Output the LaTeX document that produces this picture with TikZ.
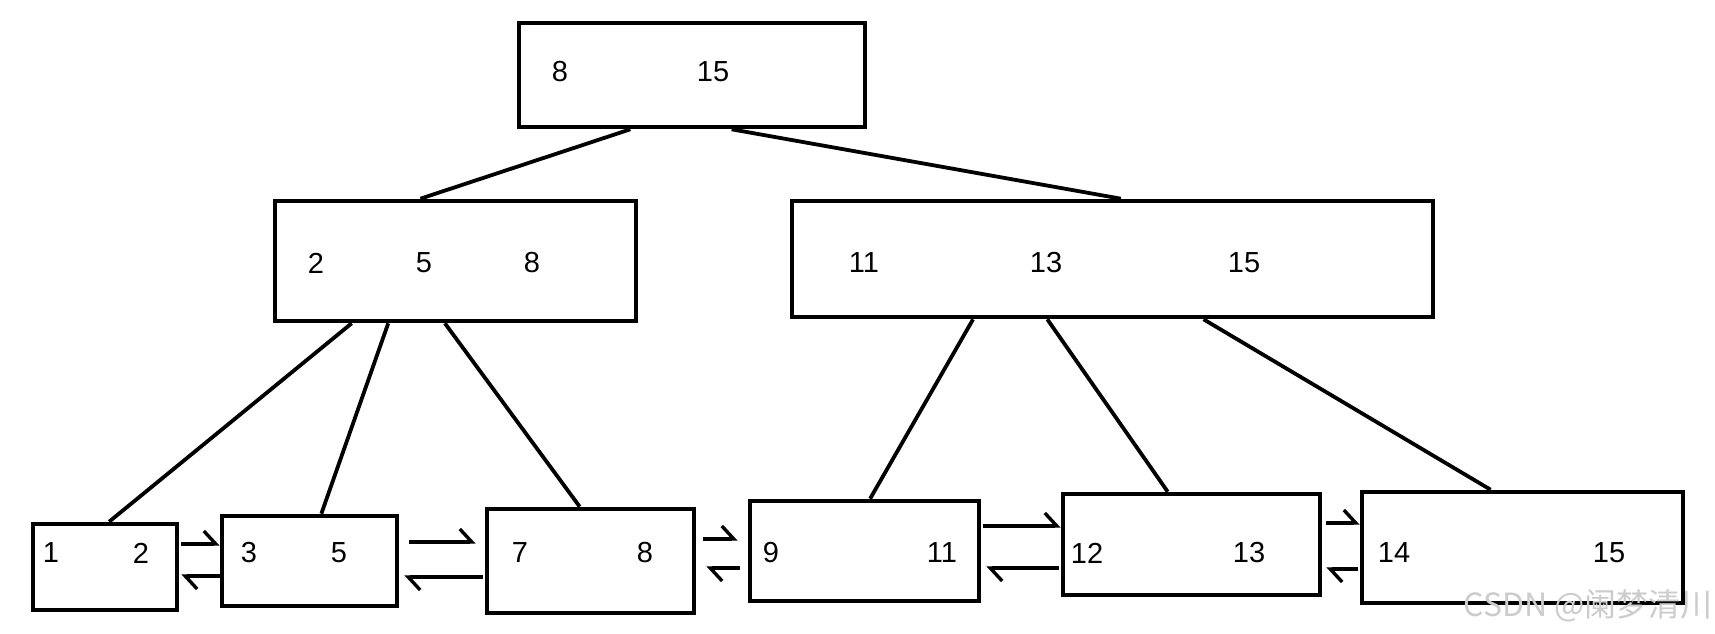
\documentclass[tikz,border=0pt]{standalone}
\usepackage{fontspec}
\setmainfont{Liberation Sans}
\newfontfamily\cjkfont{Noto Sans CJK SC}
\usetikzlibrary{arrows.meta,calc}
\begin{document}
\begin{tikzpicture}[x=1pt,y=-1pt,
  box/.style={draw=black, line width=4.6pt, inner sep=0pt, fill=none},
  num/.style={inner sep=0pt, font=\fontsize{29}{34}\selectfont},
  edge/.style={draw=black, line width=3.8pt},
  link/.style={draw=black, line width=3.4pt, -{Straight Barb[harpoon, length=12pt, width=26pt, line width=3.4pt]}}
]
\useasboundingbox[fill=white] (0,0) rectangle (1715,634);

% boxes
\node[box, minimum width=346pt, minimum height=104pt] (top) at (692,75) {};
\node[box, minimum width=361pt, minimum height=120pt] (ml) at (455.5,261) {};
\node[box, minimum width=641pt, minimum height=116pt] (mr) at (1112.5,259) {};
\node[box, minimum width=144pt, minimum height=86pt] (b1) at (105,567) {};
\node[box, minimum width=175pt, minimum height=90pt] (b2) at (309.5,561) {};
\node[box, minimum width=207pt, minimum height=104pt] (b3) at (590.5,561) {};
\node[box, minimum width=229pt, minimum height=100pt] (b4) at (864.5,551) {};
\node[box, minimum width=257pt, minimum height=101pt] (b5) at (1191.5,544.5) {};
\node[box, minimum width=321pt, minimum height=111pt] (b6) at (1522.5,547.5) {};

% keys
\node[num] (t1) at (560,72) {8};
\node[num] (t2) at (713,72) {15};
\node[num] (m1) at (316,263) {2};
\node[num] (m2) at (424,263) {5};
\node[num] (m3) at (532,263) {8};
\node[num] (r1) at (864,263) {11};
\node[num] (r2) at (1046,263) {13};
\node[num] (r3) at (1244,263) {15};
\node[num] (k1) at (51,553) {1};
\node[num] (k2) at (141,553) {2};
\node[num] (k3) at (249,553) {3};
\node[num] (k4) at (339,553) {5};
\node[num] (k5) at (520,553) {7};
\node[num] (k6) at (645,553) {8};
\node[num] (k7) at (771,553) {9};
\node[num] (k8) at (942,553) {11};
\node[num] (k9) at (1087,553) {12};
\node[num] (k10) at (1249,553) {13};
\node[num] (k11) at (1394,553) {14};
\node[num] (k12) at (1609,553) {15};

% tree edges
\draw[edge] ($(top.south west)!0.324!(top.south east)$) -- ($(ml.north west)!0.404!(ml.north east)$);
\draw[edge] ($(top.south west)!0.613!(top.south east)$) -- ($(mr.north west)!0.513!(mr.north east)$);
\draw[edge] ($(ml.south west)!0.216!(ml.south east)$) -- ($(b1.north west)!0.528!(b1.north east)$);
\draw[edge] ($(ml.south west)!0.316!(ml.south east)$) -- ($(b2.north west)!0.566!(b2.north east)$);
\draw[edge] ($(ml.south west)!0.471!(ml.south east)$) -- ($(b3.north west)!0.449!(b3.north east)$);
\draw[edge] ($(mr.south west)!0.284!(mr.south east)$) -- ($(b4.north west)!0.524!(b4.north east)$);
\draw[edge] ($(mr.south west)!0.399!(mr.south east)$) -- ($(b5.north west)!0.409!(b5.north east)$);
\draw[edge] ($(mr.south west)!0.641!(mr.south east)$) -- ($(b6.north west)!0.402!(b6.north east)$);

% leaf links
\draw[link, shorten <=2pt] (b1.east |- 0,544) -- (b2.west |- 0,544);
\draw[link, shorten >=2pt] (b2.west |- 0,576) -- (b1.east |- 0,576);
\draw[link, shorten <=10pt, shorten >=9pt] (b2.east |- 0,542) -- (b3.west |- 0,542);
\draw[link, shorten <=2pt, shorten >=5pt] (b3.west |- 0,577) -- (b2.east |- 0,577);
\draw[link, shorten <=7pt, shorten >=10pt] (b3.east |- 0,539) -- (b4.west |- 0,539);
\draw[link, shorten <=8pt, shorten >=10pt] (b4.west |- 0,568) -- (b3.east |- 0,568);
\draw[link, shorten <=2pt] (b4.east |- 0,526) -- (b5.west |- 0,526);
\draw[link, shorten <=2pt, shorten >=5pt] (b5.west |- 0,568) -- (b4.east |- 0,568);
\draw[link, shorten <=4pt] (b5.east |- 0,523) -- (b6.west |- 0,523);
\draw[link, shorten <=2pt, shorten >=4pt] (b6.west |- 0,569) -- (b5.east |- 0,569);

% watermark
\node[anchor=east, inner sep=0pt, text=black!20, font=\cjkfont\fontsize{32}{36}\selectfont] (wm) at (1713,606) {CSDN @阑梦清川};
\end{tikzpicture}
\end{document}
